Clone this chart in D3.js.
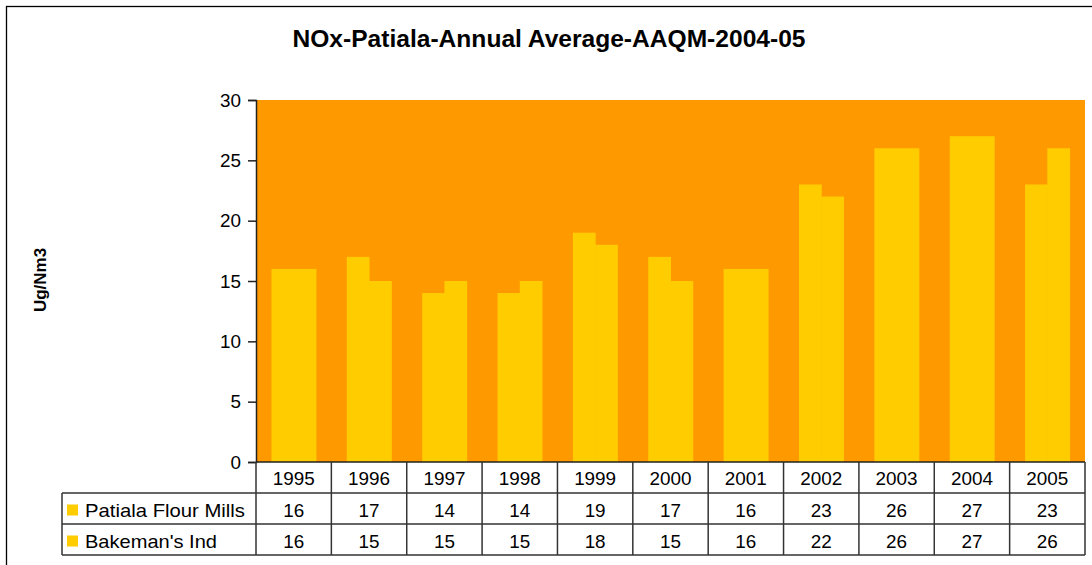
<!DOCTYPE html>
<html>
<head>
<meta charset="utf-8">
<script src="https://cdn.jsdelivr.net/npm/d3@7"></script>
<style>
  body { margin: 0; background: #fff; }
  text { font-family: "Liberation Sans", Arial, sans-serif; fill: #000; }
</style>
</head>
<body>
<div id="chart"></div>
<script>
// chart data
var years = ["1995", "1996", "1997", "1998", "1999", "2000", "2001", "2002", "2003", "2004", "2005"];
var seriesNames = ["Patiala Flour Mills", "Bakeman's Ind"];
var flourMills = [16, 17, 14, 14, 19, 17, 16, 23, 26, 27, 23];
var bakemans = [16, 15, 15, 15, 18, 15, 16, 22, 26, 27, 26];
var yTicks = [0, 5, 10, 15, 20, 25, 30];

var svgWidth = 1092;
var svgHeight = 565;

var margin = { top: 100, right: 7, bottom: 103, left: 256 };
var width = svgWidth - margin.left - margin.right;
var height = svgHeight - margin.top - margin.bottom;
var fontSize = "19px";
var digitW = 10.5; // the original text is a bit wider than Arial

var svg = d3.select("#chart")
  .append("svg")
  .attr("width", svgWidth)
  .attr("height", svgHeight);

// outer frame
svg.append("rect")
  .attr("x", 6.5)
  .attr("y", 6.5)
  .attr("width", svgWidth)
  .attr("height", svgHeight)
  .attr("fill", "none")
  .attr("stroke", "#000")
  .attr("stroke-width", 1.3);

svg.append("text")
  .attr("x", 549)
  .attr("y", 47)
  .attr("text-anchor", "middle")
  .attr("font-size", "23px")
  .attr("font-weight", "bold")
  .attr("textLength", 513)
  .attr("lengthAdjust", "spacingAndGlyphs")
  .text("NOx-Patiala-Annual Average-AAQM-2004-05");

var chartGroup = svg.append("g")
  .attr("transform", `translate(${margin.left}, ${margin.top})`);

var xScale = d3.scaleBand()
  .domain(years)
  .range([0, width])
  .paddingInner(0.41)
  .paddingOuter(0.205);

var yScale = d3.scaleLinear()
  .domain([0, 30])
  .range([height, 0]);

var sub = d3.scaleBand()
  .domain(seriesNames)
  .range([0, xScale.bandwidth()]);

// plot background
chartGroup.append("rect")
  .attr("width", width)
  .attr("height", height)
  .attr("fill", "#FF9900");

var data = years.map(function(y, i) {
  return { year: y, values: [flourMills[i], bakemans[i]] };
});

var groups = chartGroup.selectAll(".yearGroup")
  .data(data)
  .enter()
  .append("g")
  .attr("transform", d => `translate(${xScale(d.year)}, 0)`);

groups.selectAll("rect")
  .data(d => d.values.map((v, i) => ({ name: seriesNames[i], value: v })))
  .enter()
  .append("rect")
  .attr("x", d => sub(d.name))
  .attr("y", d => yScale(d.value))
  .attr("width", sub.bandwidth() + 0.5)
  .attr("height", d => height - yScale(d.value))
  .attr("fill", "#FFCC00");

// y axis
var leftAxis = d3.axisLeft(yScale)
  .tickValues(yTicks)
  .tickSize(8)
  .tickPadding(7);

var yAxis = chartGroup.append("g")
  .call(leftAxis);
yAxis.select(".domain").attr("stroke", "#222").attr("stroke-width", 1.5);
yAxis.selectAll(".tick line").attr("stroke", "#222").attr("stroke-width", 1.5);
yAxis.selectAll(".tick text")
  .attr("font-size", fontSize)
  .attr("fill", "#000")
  .attr("textLength", d => String(d).length * digitW)
  .attr("lengthAdjust", "spacingAndGlyphs")
  .style("font-family", "'Liberation Sans', Arial, sans-serif");

// y label
svg.append("text")
  .attr("transform", "translate(46, 280) rotate(-90)")
  .attr("text-anchor", "middle")
  .attr("font-size", "17px")
  .attr("font-weight", "bold")
  .text("Ug/Nm3");

// data table
var rowH = 31;
var tableTop = margin.top + height;
var tableLeft = 62;
var tableGroup = svg.append("g");
var step = xScale.step();
var plotRight = margin.left + width;
var lineColor = "#333";

function cellText(x, y, txt) {
  tableGroup.append("text")
    .attr("x", x)
    .attr("y", y)
    .attr("text-anchor", "middle")
    .attr("font-size", fontSize)
    .attr("textLength", String(txt).length * digitW)
    .attr("lengthAdjust", "spacingAndGlyphs")
    .text(txt);
}

// header row (years)
years.forEach(function(y, i) {
  cellText(margin.left + i * step + step / 2, tableTop + rowH / 2 + 7, y);
});

var rows = [flourMills, bakemans];
var labelLen = [160, 132];
rows.forEach(function(vals, r) {
  var top = tableTop + rowH * (r + 1);
  tableGroup.append("rect")
    .attr("x", tableLeft + 5)
    .attr("y", top + rowH / 2 - 4)
    .attr("width", 11)
    .attr("height", 11)
    .attr("fill", "#FFCC00");
  tableGroup.append("text")
    .attr("x", tableLeft + 23)
    .attr("y", top + rowH / 2 + 8)
    .attr("font-size", fontSize)
    .attr("textLength", labelLen[r])
    .attr("lengthAdjust", "spacingAndGlyphs")
    .text(seriesNames[r]);
  vals.forEach(function(v, i) {
    cellText(margin.left + i * step + step / 2, top + rowH / 2 + 8, v);
  });
});

// table grid lines
[1, 2, 3].forEach(function(k) {
  tableGroup.append("line")
    .attr("x1", tableLeft).attr("x2", plotRight)
    .attr("y1", tableTop + rowH * k).attr("y2", tableTop + rowH * k)
    .attr("stroke", lineColor).attr("stroke-width", 1.5);
});
// x axis baseline
tableGroup.append("line")
  .attr("x1", margin.left).attr("x2", plotRight)
  .attr("y1", tableTop).attr("y2", tableTop)
  .attr("stroke", "#222").attr("stroke-width", 1.5);

// vertical lines
d3.range(years.length + 1).forEach(function(i) {
  var x = margin.left + i * step;
  tableGroup.append("line")
    .attr("x1", x).attr("x2", x)
    .attr("y1", tableTop).attr("y2", tableTop + rowH * 3)
    .attr("stroke", lineColor).attr("stroke-width", 1.5);
});
tableGroup.append("line")
  .attr("x1", tableLeft).attr("x2", tableLeft)
  .attr("y1", tableTop + rowH).attr("y2", tableTop + rowH * 3)
  .attr("stroke", lineColor).attr("stroke-width", 1.5);
</script>
</body>
</html>
